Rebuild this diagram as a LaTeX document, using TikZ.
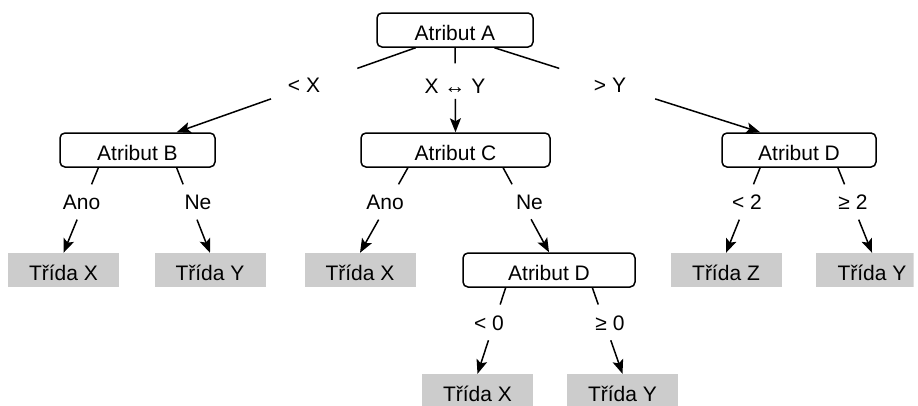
\documentclass[tikz,border=0pt]{standalone}
\usepackage{fontspec}
\setmainfont{Liberation Sans}
\usetikzlibrary{calc,arrows.meta}
\definecolor{leafgray}{RGB}{204,204,204}
\newcommand{\treeedge}[5]{%
  \path (#1) -- (#2) coordinate[pos=#3] (#5a) coordinate[pos=#4] (#5b);
  \draw[ln] (#1) -- (#5a);
  \draw[arr] (#5b) -- (#2);}
\begin{document}
\begin{tikzpicture}[x=1pt,y=-1pt,font=\fontsize{21}{25}\selectfont]
\tikzset{
  attr/.style={draw, line width=1.5pt, rounded corners=5pt, minimum height=34pt,
               text height=20pt, text depth=0pt, inner sep=0pt},
  leaf/.style={fill=leafgray, minimum height=34pt, minimum width=111pt,
               text height=20pt, text depth=0pt, inner sep=0pt},
  lbl/.style={text height=15pt, text depth=0pt, inner sep=0pt},
  ln/.style={line width=1.5pt},
  arr/.style={ln, -{Stealth[length=14pt,width=11pt,inset=3pt]}}
}
\useasboundingbox (0,0) rectangle (918,405);
\clip (0,0) rectangle (913.5,405);
% attribute nodes
\node[attr, minimum width=156pt] (A)  at (455,30)    {Atribut A};
\node[attr, minimum width=155pt] (B)  at (137.5,150) {Atribut B};
\node[attr, minimum width=189pt] (C)  at (455.5,150) {Atribut C};
\node[attr, minimum width=154pt] (D1) at (799,150)   {Atribut D};
\node[attr, minimum width=172pt] (D2) at (549,270)   {Atribut D};
% leaves
\node[leaf] (L1) at (63.5,270)  {Třída X};
\node[leaf] (L2) at (210,270)   {Třída Y};
\node[leaf] (L3) at (360,270)   {Třída X};
\node[leaf] (L4) at (726,270)   {Třída Z};
\node[leaf, minimum width=112pt] (L5) at (872,270) {Třída Y};
\node[leaf] (L6) at (477.5,391) {Třída X};
\node[leaf] (L7) at (622.5,391) {Třída Y};
% labels
\node[lbl] (lAB) at (304,85)   {< X};
\node[lbl] (lAC) at (455,85.5) {X ↔ Y};
\node[lbl] (lAD) at (610,85)   {> Y};
\node[lbl] (lB1) at (81.5,202) {Ano};
\node[lbl] (lB2) at (198,202)  {Ne};
\node[lbl] (lC1) at (385,202)  {Ano};
\node[lbl] (lC2) at (529.5,202){Ne};
\node[lbl] (lD1) at (747,202)  {< 2};
\node[lbl] (lD2) at (853,202)  {≥ 2};
\node[lbl] (lE1) at (489,322.5){< 0};
\node[lbl] (lE2) at (610,322.5){≥ 0};
% anchor points
\coordinate (Aq1) at ($(A.south west)!0.25!(A.south east)$);
\coordinate (Aq3) at ($(A.south west)!0.75!(A.south east)$);
\coordinate (Bt3) at ($(B.north west)!0.75!(B.north east)$);
\coordinate (Dt1) at ($(D1.north west)!0.25!(D1.north east)$);
\coordinate (Bq1) at ($(B.south west)!0.25!(B.south east)$);
\coordinate (Bq3) at ($(B.south west)!0.75!(B.south east)$);
\coordinate (Cq1) at ($(C.south west)!0.25!(C.south east)$);
\coordinate (Cq3) at ($(C.south west)!0.75!(C.south east)$);
\coordinate (Dq1) at ($(D1.south west)!0.25!(D1.south east)$);
\coordinate (Dq3) at ($(D1.south west)!0.75!(D1.south east)$);
\coordinate (Eq1) at ($(D2.south west)!0.25!(D2.south east)$);
\coordinate (Eq3) at ($(D2.south west)!0.75!(D2.south east)$);
% edges
\treeedge{Aq1}{Bt3}{0.244}{0.605}{eAB}
\treeedge{A.south}{C.north}{0.186}{0.605}{eAC}
\treeedge{Aq3}{Dt1}{0.244}{0.605}{eAD}
\treeedge{Bq1}{L1.north}{0.195}{0.61}{eB1}
\treeedge{Bq3}{L2.north}{0.195}{0.61}{eB2}
\treeedge{Cq1}{L3.north}{0.195}{0.61}{eC1}
\treeedge{Cq3}{D2.north}{0.195}{0.61}{eC2}
\treeedge{Dq1}{L4.north}{0.195}{0.61}{eD1}
\treeedge{Dq3}{L5.north}{0.195}{0.61}{eD2}
\treeedge{Eq1}{L6.north}{0.195}{0.61}{eE1}
\treeedge{Eq3}{L7.north}{0.195}{0.61}{eE2}
\end{tikzpicture}
\end{document}
